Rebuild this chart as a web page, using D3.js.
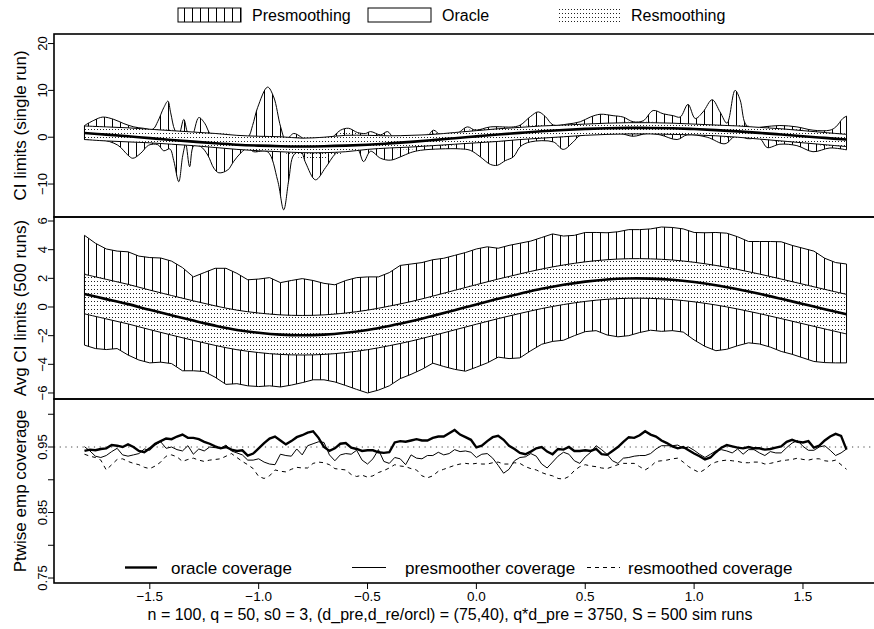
<!DOCTYPE html>
<html>

<head>
    <title>CI limits and coverage</title>
    <script src="https://d3js.org/d3.v7.min.js"></script>
    <style>
        body { margin: 0; background: #fff; }
        text { font-family: "Liberation Sans", Arial, Helvetica, sans-serif; fill: #000; }
    </style>
</head>

<body>
    <div id="container"></div>
    <script>
        // DATA

        // true curve and averaged bands, on a 0.1 grid from -1.8 to 1.7
        var gridX = d3.range(36).map(i => -1.8 + 0.1 * i)
        var truth = [0.9, 0.55, 0.2, -0.2, -0.58, -0.95, -1.3, -1.6, -1.8, -1.93, -1.97, -1.93, -1.8, -1.6, -1.32, -1.0, -0.62, -0.22, 0.18, 0.57,
            0.93, 1.27, 1.55, 1.77, 1.92, 1.99, 1.98, 1.9, 1.74, 1.52, 1.24, 0.92, 0.57, 0.21, -0.15, -0.5]

        // single run: oracle and resmoothing bands
        var oracleUp1 = [2.4, 2.2, 2.0, 1.7, 1.4, 1.1, 0.8, 0.4, 0.2, 0.1, -0.2, 0.0, 0.4, 0.4, 0.3, 0.4, 0.6, 1.0, 1.4, 1.8,
            2.1, 2.4, 2.6, 2.8, 3.0, 3.1, 3.1, 3.0, 2.8, 2.6, 2.4, 2.1, 1.8, 1.4, 1.0, 0.6]
        var oracleLo1 = [-0.5, -0.8, -1.0, -1.2, -1.5, -1.8, -2.2, -2.6, -2.9, -3.1, -3.3, -3.3, -3.1, -2.6, -2.3, -2.1, -1.8, -1.5, -1.2, -0.9,
            -0.5, -0.2, 0.1, 0.4, 0.6, 0.7, 0.7, 0.6, 0.5, 0.3, 0.0, -0.4, -0.8, -1.2, -1.6, -2.0]
        var resUp1 = [2.3, 2.2, 2.0, 1.8, 1.6, 1.3, 1.0, 0.6, 0.3, 0.2, 0.0, 0.3, 1.0, 0.7, 0.5, 0.5, 0.8, 1.3, 1.8, 2.2,
            2.4, 2.6, 2.8, 3.0, 3.2, 3.3, 3.3, 3.2, 3.0, 2.8, 2.6, 2.3, 2.0, 1.6, 1.2, 0.8]
        var resLo1 = [-0.3, -0.5, -0.8, -1.0, -1.3, -1.6, -2.0, -2.5, -2.8, -3.2, -4.5, -4.6, -3.2, -2.3, -2.5, -2.6, -2.2, -1.7, -1.3, -1.0,
            -0.6, -0.3, 0.0, 0.4, 0.6, 0.6, 0.6, 0.5, 0.3, 0.1, -0.2, -0.6, -1.0, -1.4, -1.8, -2.2]

        // single run: presmoothing limits (uneven x, read at the bumps)
        var preUpX1 = [-1.8, -1.757, -1.716, -1.665, -1.619, -1.573, -1.528, -1.486, -1.463, -1.436, -1.417, -1.404, -1.385, -1.367, -1.344, -1.326, -1.307, -1.275, -1.248, -1.22,
            -1.174, -1.115, -1.05, -1.028, -1.005, -0.959, -0.931, -0.899, -0.876, -0.839, -0.807, -0.784, -0.739, -0.683, -0.624, -0.587, -0.546, -0.509, -0.486, -0.44,
            -0.408, -0.381, -0.303, -0.234, -0.197, -0.165, -0.096, -0.041, -0.005, 0.064, 0.17, 0.202, 0.248, 0.284, 0.317, 0.353, 0.417, 0.477, 0.523, 0.569,
            0.628, 0.674, 0.72, 0.766, 0.812, 0.858, 0.904, 0.936, 0.972, 1.005, 1.041, 1.083, 1.119, 1.151, 1.188, 1.211, 1.234, 1.257, 1.317, 1.394,
            1.472, 1.546, 1.624, 1.651, 1.683, 1.7]
        var preUp1 = [2.5, 3.6, 4.3, 3.8, 2.9, 2.2, 1.9, 1.7, 3.4, 6.3, 7.7, 5.2, 1.5, 0.5, 3.8, 1.0, 0.2, 4.2, 3.0, 0.6,
            0.0, -0.3, 0.0, 2.5, 6.3, 10.7, 8.6, 2.2, -0.5, 0.8, 0.1, -0.6, -1.0, -0.8, 1.5, 1.9, 1.0, 0.8, 1.2, 0.5,
            1.2, 0.0, -0.3, -0.2, 1.5, 0.5, 0.6, 2.2, 1.5, 2.2, 2.2, 2.6, 4.4, 5.4, 4.4, 2.6, 2.8, 3.3, 4.3, 4.9,
            4.6, 4.3, 3.3, 3.5, 5.7, 5.0, 4.6, 4.3, 7.0, 4.0, 5.4, 8.0, 5.4, 3.0, 10.0, 8.0, 3.0, 2.0, 2.2, 2.5,
            2.2, 1.5, 1.5, 2.2, 4.0, 4.5]
        var preLoX1 = [-1.8, -1.725, -1.647, -1.601, -1.578, -1.541, -1.505, -1.463, -1.436, -1.408, -1.39, -1.367, -1.349, -1.335, -1.317, -1.298, -1.266, -1.234, -1.206, -1.183,
            -1.142, -1.115, -1.083, -1.05, -1.023, -0.959, -0.913, -0.885, -0.862, -0.839, -0.807, -0.784, -0.739, -0.693, -0.647, -0.601, -0.546, -0.518, -0.486, -0.44,
            -0.394, -0.349, -0.303, -0.257, -0.165, -0.073, -0.028, 0.018, 0.064, 0.096, 0.133, 0.17, 0.202, 0.248, 0.353, 0.399, 0.445, 0.477, 0.569, 0.661,
            0.72, 0.784, 0.844, 0.922, 0.968, 1.06, 1.142, 1.197, 1.243, 1.303, 1.335, 1.394, 1.472, 1.546, 1.624, 1.7]
        var preLo1 = [-0.5, -0.5, -1.7, -3.8, -4.5, -3.4, -1.7, -1.6, -2.9, -2.5, -5.0, -9.5, -4.0, -1.5, -6.3, -1.8, -2.0, -3.8, -6.6, -7.6,
            -7.0, -5.2, -3.4, -2.3, -3.1, -3.1, -9.2, -15.5, -9.2, -3.8, -3.0, -5.5, -9.1, -6.5, -3.5, -2.0, -2.5, -5.2, -3.0, -4.5,
            -4.9, -4.2, -3.3, -2.8, -2.5, -2.5, -2.8, -4.2, -5.8, -6.0, -5.0, -4.2, -2.0, -1.0, -1.0, -2.6, -1.0, 0.4, 0.8, 0.8,
            0.2, 0.8, 0.5, -0.5, 0.5, 0.0, -1.4, 0.6, -0.3, -0.3, -2.2, -1.5, -1.8, -3.1, -2.3, -2.7]

        // 500 runs: averaged limits
        var oracleUp2 = [2.28, 1.93, 1.58, 1.18, 0.8, 0.43, 0.08, -0.22, -0.42, -0.55, -0.59, -0.55, -0.42, -0.22, 0.06, 0.38, 0.76, 1.16, 1.56, 1.95,
            2.31, 2.65, 2.93, 3.15, 3.3, 3.37, 3.36, 3.28, 3.12, 2.9, 2.62, 2.3, 1.95, 1.59, 1.23, 0.88]
        var oracleLo2 = [-0.48, -0.83, -1.18, -1.58, -1.96, -2.33, -2.68, -2.98, -3.18, -3.31, -3.35, -3.31, -3.18, -2.98, -2.7, -2.38, -2.0, -1.6, -1.2, -0.81,
            -0.45, -0.11, 0.17, 0.39, 0.54, 0.61, 0.6, 0.52, 0.36, 0.14, -0.14, -0.46, -0.81, -1.17, -1.53, -1.88]
        var resUp2 = [2.33, 1.98, 1.62, 1.22, 0.84, 0.47, 0.12, -0.18, -0.38, -0.5, -0.55, -0.5, -0.37, -0.17, 0.1, 0.42, 0.8, 1.2, 1.6, 1.99,
            2.35, 2.69, 2.97, 3.19, 3.34, 3.41, 3.4, 3.32, 3.16, 2.94, 2.66, 2.35, 2.0, 1.64, 1.28, 0.95]
        var resLo2 = [-0.43, -0.78, -1.14, -1.54, -1.92, -2.3, -2.65, -2.95, -3.15, -3.28, -3.32, -3.28, -3.15, -2.95, -2.67, -2.35, -1.97, -1.57, -1.17, -0.78,
            -0.42, -0.08, 0.2, 0.42, 0.57, 0.64, 0.63, 0.55, 0.39, 0.17, -0.1, -0.42, -0.77, -1.13, -1.49, -1.84]

        // 500 runs: averaged presmoothing limits, on a 0.05 grid
        var preX2 = d3.range(71).map(i => -1.8 + 0.05 * i)
        var preUp2 = [5.0, 4.45, 4.05, 3.9, 3.85, 3.55, 3.45, 3.42, 3.2, 2.75, 2.1, 2.4, 2.7, 2.7, 2.35, 1.9, 1.95, 2.05, 1.7, 1.85,
            1.98, 1.85, 1.65, 1.55, 1.85, 2.05, 2.1, 2.1, 2.4, 2.9, 3.0, 3.1, 3.3, 3.4, 3.6, 3.8, 4.05, 4.2, 4.1, 4.3,
            4.45, 4.6, 4.85, 5.1, 4.95, 5.0, 5.2, 5.2, 5.18, 5.25, 5.4, 5.4, 5.45, 5.58, 5.55, 5.45, 5.2, 5.18, 5.2, 5.15,
            4.9, 4.57, 4.57, 4.57, 4.55, 4.3, 4.1, 3.9, 3.4, 3.1, 3.0]
        var preLo2 = [-2.66, -2.9, -2.97, -2.9, -3.35, -3.7, -3.9, -3.85, -3.95, -4.45, -4.45, -4.5, -4.9, -5.4, -5.35, -5.5, -5.55, -5.5, -5.58, -5.45,
            -5.28, -5.08, -5.08, -5.23, -5.48, -5.75, -6.0, -5.8, -5.5, -5.0, -4.7, -4.35, -3.92, -4.15, -4.35, -4.48, -4.2, -3.9, -3.5, -3.6,
            -3.55, -3.05, -2.6, -2.4, -2.32, -2.0, -1.72, -1.65, -1.95, -2.08, -2.0, -1.78, -1.62, -1.7, -1.65, -1.75, -2.3, -2.75, -3.05, -2.95,
            -2.7, -2.5, -2.58, -2.8, -3.1, -3.3, -3.55, -3.8, -3.88, -3.9, -3.9]

        // pointwise empirical coverage, on a 0.025 grid
        var covX = d3.range(141).map(i => -1.8 + 0.025 * i)
        var covOracle = [0.944, 0.946, 0.945, 0.947, 0.948, 0.953, 0.952, 0.95, 0.954, 0.95, 0.944, 0.942, 0.948, 0.955, 0.959, 0.963, 0.962, 0.966, 0.969, 0.964,
            0.964, 0.962, 0.958, 0.955, 0.951, 0.948, 0.95, 0.946, 0.944, 0.945, 0.937, 0.94, 0.948, 0.956, 0.963, 0.966, 0.96, 0.954, 0.959, 0.965,
            0.968, 0.972, 0.974, 0.964, 0.95, 0.944, 0.948, 0.955, 0.956, 0.949, 0.947, 0.944, 0.945, 0.945, 0.942, 0.941, 0.942, 0.957, 0.959, 0.958,
            0.96, 0.962, 0.96, 0.96, 0.964, 0.966, 0.966, 0.971, 0.976, 0.969, 0.965, 0.961,
            0.9495, 0.952, 0.959, 0.965, 0.967, 0.961, 0.952, 0.947, 0.941, 0.939, 0.943, 0.948, 0.95, 0.943, 0.939, 0.947, 0.946, 0.95, 0.944, 0.944,
            0.945, 0.944, 0.947, 0.939, 0.938, 0.944, 0.95, 0.958, 0.965, 0.964, 0.968, 0.974, 0.969, 0.966, 0.96, 0.956, 0.951, 0.948, 0.95, 0.945,
            0.94, 0.936, 0.931, 0.934, 0.942, 0.949, 0.953, 0.951, 0.949, 0.948, 0.95, 0.948, 0.948, 0.946, 0.947, 0.949, 0.951, 0.958, 0.961, 0.958,
            0.957, 0.959, 0.949, 0.952, 0.96, 0.966, 0.97, 0.967, 0.946]
        var covPre = [0.9505, 0.944, 0.936, 0.934, 0.937, 0.943, 0.948, 0.938, 0.936, 0.938, 0.94, 0.947, 0.945, 0.953, 0.958, 0.948, 0.95, 0.946, 0.944, 0.952,
            0.939, 0.947, 0.944, 0.95, 0.949, 0.948, 0.953, 0.944, 0.941, 0.938, 0.93, 0.93, 0.932, 0.927, 0.924, 0.923, 0.939, 0.937, 0.936, 0.947,
            0.938, 0.952, 0.955, 0.958, 0.957, 0.938, 0.929, 0.938, 0.94, 0.939, 0.945, 0.93, 0.924, 0.932, 0.946, 0.928, 0.925, 0.934, 0.932, 0.923,
            0.938, 0.933, 0.932, 0.937, 0.937, 0.942, 0.938, 0.94, 0.946, 0.943, 0.944, 0.942,
            0.934, 0.939, 0.94, 0.933, 0.922, 0.91, 0.916, 0.929, 0.934, 0.935, 0.94, 0.936, 0.924, 0.918, 0.927, 0.936, 0.942, 0.939, 0.929, 0.925,
            0.935, 0.942, 0.952, 0.946, 0.939, 0.929, 0.925, 0.933, 0.934, 0.936, 0.937, 0.937, 0.94, 0.947, 0.952, 0.952, 0.952, 0.953, 0.948, 0.95,
            0.945, 0.939, 0.934, 0.939, 0.944, 0.946, 0.944, 0.941, 0.947, 0.939, 0.946, 0.946, 0.941, 0.937, 0.943, 0.941, 0.941, 0.949, 0.956, 0.96,
            0.951, 0.945, 0.945, 0.95, 0.952, 0.945, 0.937, 0.941, 0.947]
        var covRe = [0.939, 0.936, 0.934, 0.93, 0.915, 0.923, 0.931, 0.932, 0.928, 0.925, 0.923, 0.919, 0.917, 0.921, 0.927, 0.936, 0.938, 0.935, 0.928, 0.931,
            0.933, 0.93, 0.928, 0.93, 0.931, 0.932, 0.936, 0.94, 0.934, 0.928, 0.923, 0.917, 0.905, 0.902, 0.906, 0.915, 0.913, 0.912, 0.916, 0.919,
            0.918, 0.918, 0.925, 0.927, 0.926, 0.923, 0.917, 0.916, 0.915, 0.908, 0.905, 0.907, 0.904, 0.906, 0.911, 0.914, 0.918, 0.923, 0.921, 0.92,
            0.917, 0.915, 0.906, 0.903, 0.906, 0.913, 0.916, 0.919, 0.922, 0.924, 0.925, 0.924,
            0.925, 0.924, 0.924, 0.926, 0.927, 0.924, 0.924, 0.926, 0.925, 0.92, 0.917, 0.915, 0.911, 0.908, 0.906, 0.902, 0.901, 0.905, 0.914, 0.92,
            0.923, 0.921, 0.92, 0.918, 0.917, 0.92, 0.923, 0.925, 0.925, 0.925, 0.92, 0.915, 0.92, 0.928, 0.929, 0.93, 0.932, 0.933, 0.927, 0.92,
            0.915, 0.911, 0.916, 0.923, 0.927, 0.929, 0.93, 0.929, 0.928, 0.926, 0.926, 0.927, 0.927, 0.924, 0.925, 0.927, 0.929, 0.93, 0.931, 0.933,
            0.931, 0.93, 0.932, 0.932, 0.929, 0.928, 0.93, 0.923, 0.916]

        // axis ticks and texts
        var xTicks = [-1.5, -1.0, -0.5, 0.0, 0.5, 1.0, 1.5]
        var xTickLabels = ['\u22121.5', '\u22121.0', '\u22120.5', '0.0', '0.5', '1.0', '1.5']
        var y1Ticks = [-10, 0, 10, 20]
        var y1TickLabels = ['\u221210', '0', '10', '20']
        var y2Ticks = [-6, -4, -2, 0, 2, 4, 6]
        var y2TickLabels = ['\u22126', '\u22124', '\u22122', '0', '2', '4', '6']
        var y3Ticks = [0.75, 0.8, 0.85, 0.9, 0.95, 1.0]
        var y3TickLabels = ['0.75', '', '0.85', '', '0.95', '']
        var nominal = 0.95
        var topLegend = ['Presmoothing', 'Oracle', 'Resmoothing']
        var covLegend = ['oracle coverage', 'presmoother coverage', 'resmoothed coverage']
        var caption = 'n = 100, q = 50, s0 = 3, (d_pre,d_re/orcl) = (75,40), q*d_pre = 3750, S = 500 sim runs'
    </script>
    <script>
        // GENERAL SETUP

        var width = 874
        var height = 629
        var plotLeft = 54
        var plotRight = 877

        var svg = d3.select('#container').append('svg')
            .attr('width', width)
            .attr('height', height)

        var x = d3.scaleLinear().domain([-1.94, 1.84]).range([plotLeft, plotRight])
        var y1 = d3.scaleLinear().domain([-17.04, 22.04]).range([217, 34])
        var y2 = d3.scaleLinear().domain([-6.42, 6.28]).range([399, 217])
        var y3 = d3.scaleLinear().domain([0.7424, 1.0233]).range([583, 399])

        // vertical hatching and dot stipple, pixel aligned so they stay crisp
        var defs = svg.append('defs')
        var hatch = defs.append('pattern').attr('id', 'hatch')
            .attr('patternUnits', 'userSpaceOnUse').attr('width', 8).attr('height', 10)
        hatch.append('rect').attr('x', 0).attr('y', 0).attr('width', 1).attr('height', 10).attr('fill', '#000')
        var dots = defs.append('pattern').attr('id', 'dots')
            .attr('patternUnits', 'userSpaceOnUse').attr('width', 3).attr('height', 4)
        dots.append('rect').attr('x', 1).attr('y', 1).attr('width', 1).attr('height', 1).attr('fill', '#222')

        ;[[y1, 'clip1'], [y2, 'clip2'], [y3, 'clip3']].forEach(function (c) {
            defs.append('clipPath').attr('id', c[1]).append('rect')
                .attr('x', plotLeft).attr('y', c[0].range()[1])
                .attr('width', plotRight - plotLeft).attr('height', c[0].range()[0] - c[0].range()[1])
        })

        function bandPath(xu, yu, xl, yl, y, curve) {
            var line = d3.line().x(d => x(d[0])).y(d => y(d[1])).curve(curve)
            var up = d3.zip(xu, yu)
            var lo = d3.zip(xl, yl).reverse()
            return line(up) + 'L' + line(lo).slice(1) + 'Z'
        }

        function drawBands(g, y, pre, oracle, res, curvePre) {
            g.append('path').attr('d', bandPath(pre[0], pre[1], pre[2], pre[3], y, curvePre))
                .attr('fill', 'url(#hatch)').attr('stroke', '#000').attr('stroke-width', 1).attr('stroke-linejoin', 'round')
            g.append('path').attr('d', bandPath(gridX, oracle[0], gridX, oracle[1], y, d3.curveCatmullRom))
                .attr('fill', '#fff').attr('stroke', '#000').attr('stroke-width', 1)
            g.append('path').attr('d', bandPath(gridX, res[0], gridX, res[1], y, d3.curveCatmullRom))
                .attr('fill', 'url(#dots)')
            g.append('path').datum(d3.zip(gridX, truth))
                .attr('d', d3.line().x(d => x(d[0])).y(d => y(d[1])).curve(d3.curveCatmullRom))
                .attr('fill', 'none').attr('stroke', '#000').attr('stroke-width', 2.6)
        }
    </script>
    <script>
        // PANELS 1 AND 2: CONFIDENCE LIMITS

        var g1 = svg.append('g').attr('clip-path', 'url(#clip1)')
        drawBands(g1, y1, [preUpX1, preUp1, preLoX1, preLo1], [oracleUp1, oracleLo1], [resUp1, resLo1],
            d3.curveCatmullRom.alpha(0.5))

        var g2 = svg.append('g').attr('clip-path', 'url(#clip2)')
        drawBands(g2, y2, [preX2, preUp2, preX2, preLo2], [oracleUp2, oracleLo2], [resUp2, resLo2], d3.curveLinear)

        // PANEL 3: COVERAGE

        var g3 = svg.append('g').attr('clip-path', 'url(#clip3)')
        g3.append('line')
            .attr('x1', plotLeft).attr('x2', plotRight).attr('y1', y3(nominal)).attr('y2', y3(nominal))
            .attr('stroke', '#444').attr('stroke-width', 1).attr('stroke-dasharray', '1.2,4.5')

        var covLine = d3.line().x(d => x(d[0])).y(d => y3(d[1]))
        g3.append('path').datum(d3.zip(covX, covRe)).attr('d', covLine)
            .attr('fill', 'none').attr('stroke', '#000').attr('stroke-width', 1).attr('stroke-dasharray', '4,4')
        g3.append('path').datum(d3.zip(covX, covPre)).attr('d', covLine)
            .attr('fill', 'none').attr('stroke', '#000').attr('stroke-width', 1)
        g3.append('path').datum(d3.zip(covX, covOracle)).attr('d', covLine)
            .attr('fill', 'none').attr('stroke', '#000').attr('stroke-width', 2.4)

        // coverage legend
        var legX = [[125, 157, 171], [352, 386, 405], [587, 620, 628]]
        var legW = [2.4, 1, 1]
        var legDash = [null, null, '4,4']
        covLegend.forEach(function (t, i) {
            svg.append('line').attr('x1', legX[i][0]).attr('x2', legX[i][1]).attr('y1', 567.5).attr('y2', 567.5)
                .attr('stroke', '#000').attr('stroke-width', legW[i]).attr('stroke-dasharray', legDash[i])
            svg.append('text').attr('x', legX[i][2]).attr('y', 573.5).style('font-size', '17px').text(t)
        })
    </script>
    <script>
        // FRAMES AND AXES

        ;[y1, y2, y3].forEach(function (y) {
            svg.append('rect').attr('x', plotLeft).attr('y', y.range()[1])
                .attr('width', plotRight - plotLeft).attr('height', y.range()[0] - y.range()[1])
                .attr('fill', 'none').attr('stroke', '#000').attr('stroke-width', 1.6)
        })

        function yAxis(y, ticks, labels, title) {
            svg.selectAll(null).data(ticks).enter().append('line')
                .attr('x1', plotLeft - 6).attr('x2', plotLeft)
                .attr('y1', d => y(d)).attr('y2', d => y(d))
                .attr('stroke', '#000').attr('stroke-width', 1)
            svg.selectAll(null).data(ticks).enter().append('text')
                .attr('transform', d => 'translate(46.5,' + y(d) + ') rotate(-90)')
                .attr('text-anchor', 'middle')
                .style('font-size', '13px')
                .text((d, i) => labels[i])
            svg.append('text')
                .attr('transform', 'translate(25.5,' + (y.range()[0] + y.range()[1]) / 2 + ') rotate(-90)')
                .attr('text-anchor', 'middle')
                .style('font-size', '17px')
                .text(title)
        }
        yAxis(y1, y1Ticks, y1TickLabels, 'CI limits (single run)')
        yAxis(y2, y2Ticks, y2TickLabels, 'Avg CI limits (500 runs)')
        yAxis(y3, y3Ticks, y3TickLabels, 'Ptwise emp coverage')

        svg.selectAll(null).data(xTicks).enter().append('line')
            .attr('x1', d => x(d)).attr('x2', d => x(d)).attr('y1', 583).attr('y2', 589)
            .attr('stroke', '#000').attr('stroke-width', 1)
        svg.selectAll(null).data(xTicks).enter().append('text')
            .attr('x', d => x(d)).attr('y', 601)
            .attr('text-anchor', 'middle')
            .style('font-size', '13.5px')
            .text((d, i) => xTickLabels[i])

        svg.append('text').attr('x', 450).attr('y', 620).attr('text-anchor', 'middle')
            .style('font-size', '16px').text(caption)

        // TOP LEGEND

        var boxX = [178, 368, 557]
        var boxFill = ['url(#hatch)', '#fff', 'url(#dots)']
        var boxStroke = ['#000', '#000', 'none']
        topLegend.forEach(function (t, i) {
            svg.append('rect').attr('x', boxX[i]).attr('y', 8).attr('width', 63).attr('height', 14)
                .attr('fill', boxFill[i]).attr('stroke', boxStroke[i]).attr('stroke-width', 1)
            svg.append('text').attr('x', boxX[i] + 74).attr('y', 20.5).style('font-size', '16px').text(t)
        })
    </script>
</body>

</html>
